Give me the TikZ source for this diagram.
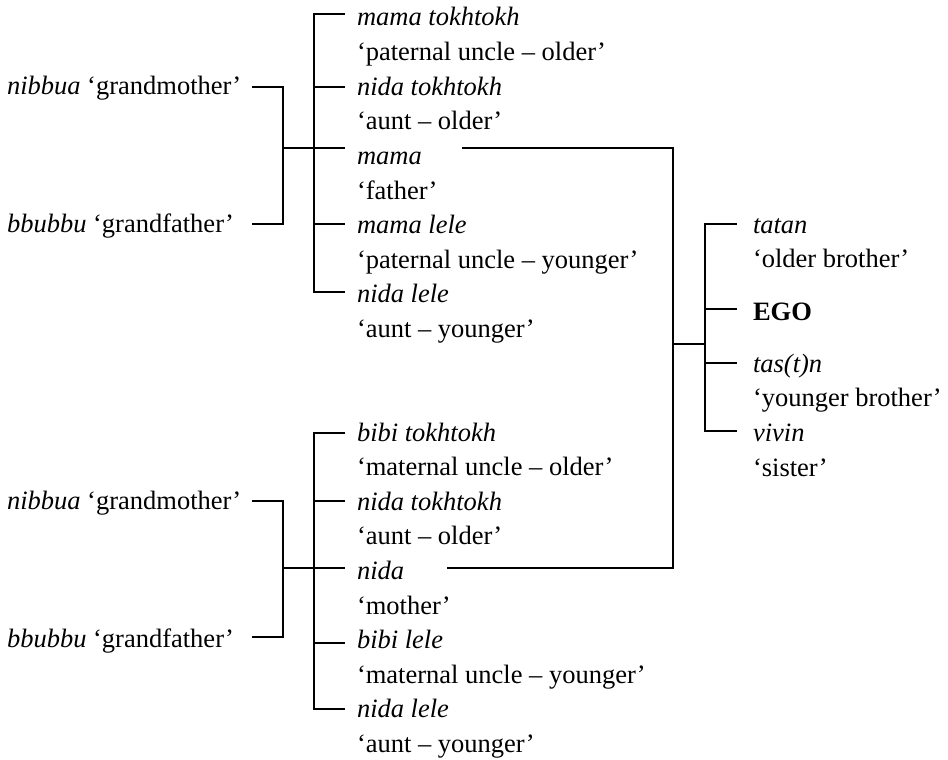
\documentclass[tikz,border=0pt]{standalone}
\usepackage{fontspec}
\setmainfont{Liberation Serif}
\begin{document}
\begin{tikzpicture}[x=1pt,y=-1pt,
  lbl/.style={anchor=base west,inner sep=0pt,outer sep=0pt,font=\fontsize{26.5}{32}\selectfont},
  term/.style={lbl,font=\fontsize{26.5}{32}\selectfont\itshape},
  egostyle/.style={lbl,font=\fontsize{26.5}{32}\selectfont\bfseries},
  conn/.style={line width=2pt}]
\useasboundingbox (0,0) rectangle (948,760);

% ---------- left (grandparents) ----------
\node[lbl] (gmA) at (7,94) {\textit{nibbua} ‘grandmother’};
\node[lbl] (gfA) at (7,232) {\textit{bbubbu} ‘grandfather’};
\node[lbl] (gmB) at (7,509) {\textit{nibbua} ‘grandmother’};
\node[lbl] (gfB) at (7,647) {\textit{bbubbu} ‘grandfather’};

% ---------- top sibling group ----------
\node[term] (a1) at (357,26) {mama tokhtokh};
\node[lbl]  (a1g) at (357,60.6) {‘paternal uncle – older’};
\node[term] (a2) at (357,95.2) {nida tokhtokh};
\node[lbl]  (a2g) at (357,129.8) {‘aunt – older’};
\node[term] (a3) at (357,164.4) {mama};
\node[lbl]  (a3g) at (357,199) {‘father’};
\node[term] (a4) at (357,233.6) {mama lele};
\node[lbl]  (a4g) at (357,268.2) {‘paternal uncle – younger’};
\node[term] (a5) at (357,302.8) {nida lele};
\node[lbl]  (a5g) at (357,337.4) {‘aunt – younger’};

% ---------- bottom sibling group ----------
\node[term] (b1) at (357,441) {bibi tokhtokh};
\node[lbl]  (b1g) at (357,475.6) {‘maternal uncle – older’};
\node[term] (b2) at (357,510.2) {nida tokhtokh};
\node[lbl]  (b2g) at (357,544.8) {‘aunt – older’};
\node[term] (b3) at (357,579.4) {nida};
\node[lbl]  (b3g) at (357,614) {‘mother’};
\node[term] (b4) at (357,648.6) {bibi lele};
\node[lbl]  (b4g) at (357,683.2) {‘maternal uncle – younger’};
\node[term] (b5) at (357,717.8) {nida lele};
\node[lbl]  (b5g) at (357,752.4) {‘aunt – younger’};

% ---------- ego's siblings ----------
\node[term] (c1) at (753,233) {tatan};
\node[lbl]  (c1g) at (753,267.5) {‘older brother’};
\node[egostyle] (ego) at (753,320) {EGO};
\node[term] (c3) at (753,372) {tas(t)n};
\node[lbl]  (c3g) at (753,406.5) {‘younger brother’};
\node[term] (c4) at (753,441) {vivin};
\node[lbl]  (c4g) at (753,476) {‘sister’};

% ---------- junction coordinates ----------
\coordinate (gmAe) at (252,87);
\coordinate (gfAe) at (252,224);
\coordinate (jA) at (283,148);
\coordinate (bA) at (314,148);
\coordinate (tA1) at (345,14);
\coordinate (tA2) at (345,87);
\coordinate (tA3) at (345,148);
\coordinate (tA4) at (345,224);
\coordinate (tA5) at (345,292);

\coordinate (gmBe) at (252,501);
\coordinate (gfBe) at (252,637);
\coordinate (jB) at (283,568);
\coordinate (bB) at (314,568);
\coordinate (tB1) at (345,433);
\coordinate (tB2) at (345,501);
\coordinate (tB3) at (345,568);
\coordinate (tB4) at (345,643);
\coordinate (tB5) at (345,709);

\coordinate (fatherE) at (462,148);
\coordinate (motherE) at (447,568);
\coordinate (jC) at (673,344);
\coordinate (bC) at (705,344);
\coordinate (tC1) at (737,224);
\coordinate (tC2) at (737,309);
\coordinate (tC3) at (737,363);
\coordinate (tC4) at (737,431);

% ---------- connectors ----------
\draw[conn] (gmAe) -| (jA) |- (gfAe);
\draw[conn] (jA) -- (bA);
\draw[conn] (tA1) -| (bA) |- (tA5);
\draw[conn] (bA |- tA2) -- (tA2);
\draw[conn] (bA) -- (tA3);
\draw[conn] (bA |- tA4) -- (tA4);

\draw[conn] (gmBe) -| (jB) |- (gfBe);
\draw[conn] (jB) -- (bB);
\draw[conn] (tB1) -| (bB) |- (tB5);
\draw[conn] (bB |- tB2) -- (tB2);
\draw[conn] (bB) -- (tB3);
\draw[conn] (bB |- tB4) -- (tB4);

\draw[conn] (fatherE) -| (jC) |- (motherE);
\draw[conn] (jC) -- (bC);
\draw[conn] (tC1) -| (bC) |- (tC4);
\draw[conn] (bC |- tC2) -- (tC2);
\draw[conn] (bC |- tC3) -- (tC3);
\end{tikzpicture}
\end{document}
